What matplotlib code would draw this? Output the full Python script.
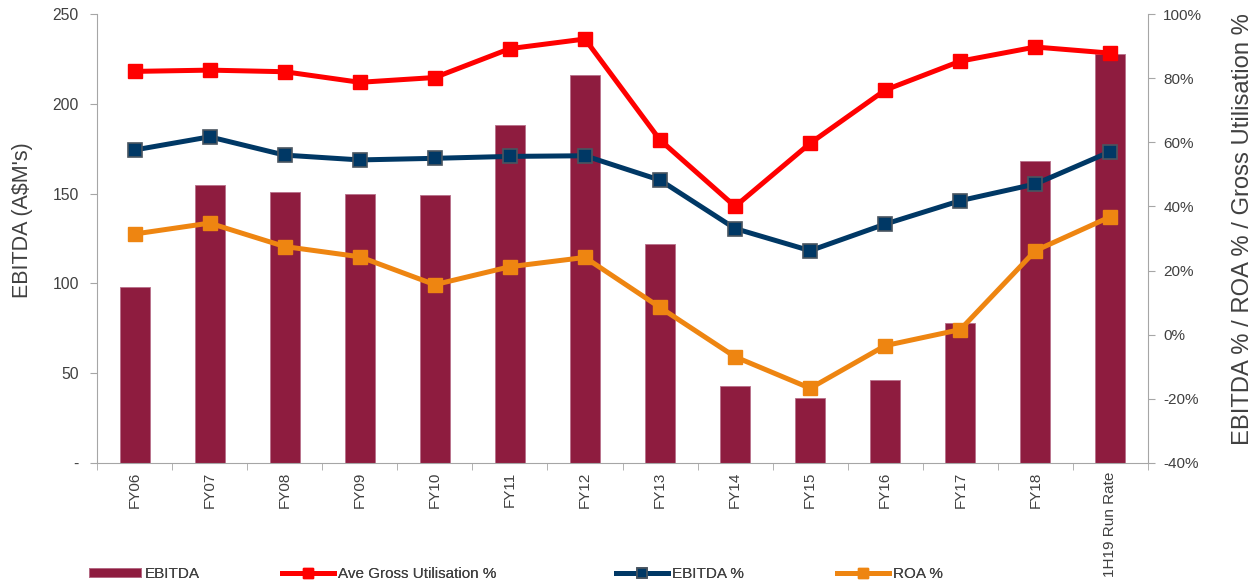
import numpy as np
import matplotlib.pyplot as plt
from matplotlib.ticker import FuncFormatter

years = ["FY06", "FY07", "FY08", "FY09", "FY10", "FY11", "FY12", "FY13",
         "FY14", "FY15", "FY16", "FY17", "FY18", "1H19 Run Rate"]
ebitda = [98, 155, 151, 150, 149, 188, 216, 122, 43, 36, 46, 78, 168, 228]
gross_util = [82.1, 82.5, 82.0, 78.7, 80.2, 89.2, 92.2, 60.7, 40.0, 59.7, 76.3, 85.3, 89.7, 87.8]
ebitda_pct = [57.6, 61.7, 56.0, 54.5, 55.0, 55.6, 55.8, 48.2, 33.1, 26.2, 34.5, 41.8, 47.0, 57.1]
roa_pct = [31.4, 34.8, 27.5, 24.3, 15.6, 21.2, 24.1, 8.5, -6.9, -16.7, -3.4, 1.6, 26.2, 36.8]

c_bar = "#8e1c3f"
c_red = "#ff0000"
c_navy = "#003865"
c_orange = "#ee8511"
c_axis = "#a6a6a6"
c_text = "#404040"

plt.rcParams['font.family'] = ['Liberation Sans', 'DejaVu Sans']

fig = plt.figure(figsize=(12.56, 5.83), dpi=100)
ax = fig.add_axes([97/1256, 1-463/583, (1148-97)/1256, (463-14)/583])
ax2 = ax.twinx()

x = np.arange(len(years))
bars = ax.bar(x, ebitda, width=0.4, color=c_bar, edgecolor="#b8708a", linewidth=0.6)

lw = 3.6
ms = 10.5
l1, = ax2.plot(x, gross_util, color=c_red, lw=lw, marker="s", ms=ms, mec=c_red)
l2, = ax2.plot(x, ebitda_pct, color=c_navy, lw=lw, marker="s", ms=ms, mec="#4a5560", mew=1.2)
l3, = ax2.plot(x, roa_pct, color=c_orange, lw=lw, marker="s", ms=ms, mec=c_orange)

ax.set_xlim(-0.5, len(years) - 0.5)
ax.set_ylim(0, 250)
ax2.set_ylim(-40, 100)

ax.set_yticks([0, 50, 100, 150, 200, 250])
ax.yaxis.set_major_formatter(FuncFormatter(lambda v, p: "-" if v == 0 else f"{v:.0f}"))
ax2.set_yticks(np.arange(-40, 101, 20))
ax2.yaxis.set_major_formatter(FuncFormatter(lambda v, p: f"{v:.0f}%"))

ax.set_xticks(x)
ax.set_xticklabels(years, rotation=90, va="top", ha="center")
ax.set_xticks(np.arange(-0.5, len(years)), minor=True)
ax.tick_params(axis="x", which="major", length=0, pad=6, labelsize=11, labelcolor=c_text)
ax.tick_params(axis="x", which="minor", length=5, color=c_axis)
ax.tick_params(axis="y", length=5, color=c_axis, labelsize=11.3, labelcolor=c_text, pad=8)
ax2.tick_params(axis="y", length=5, color=c_axis, labelsize=11, labelcolor=c_text, pad=6)

for a in (ax, ax2):
    a.spines["top"].set_visible(False)
    for s in ("left", "right", "bottom"):
        a.spines[s].set_color(c_axis)
ax.spines["right"].set_visible(False)
ax2.spines["left"].set_visible(False)
ax2.spines["bottom"].set_visible(False)

ax.set_ylabel("EBITDA (A$M's)", fontsize=15.5, color=c_text)
ax.yaxis.set_label_coords(-0.061, 0.541)
ax2.set_ylabel("EBITDA % / ROA % / Gross Utilisation %", fontsize=17.1, color=c_text)
ax2.yaxis.set_label_coords(1.080, 0.522)

# legend entries placed one by one to match the uneven spacing
entries = [(bars, "EBITDA", 89), (l1, "Ave Gross Utilisation %", 282),
           (l2, "EBITDA %", 616), (l3, "ROA %", 837)]
for h, lab, xpos in entries:
    leg = fig.legend([h], [lab], loc="center left", bbox_to_anchor=(xpos/1256, 9/583),
                     frameon=False, fontsize=11, handlelength=3.4, handleheight=0.5,
                     handletextpad=0.25, borderpad=0, borderaxespad=0, labelcolor=c_text,
                     markerscale=0.75)
    fig.add_artist(leg)

fig.savefig("out.png", dpi=100)
